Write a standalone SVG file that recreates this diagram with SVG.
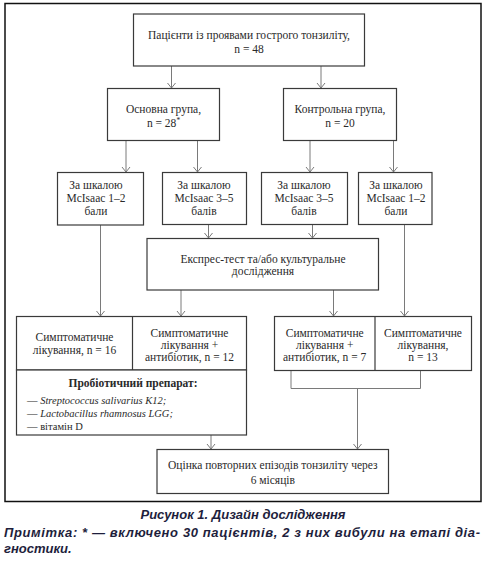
<svg xmlns="http://www.w3.org/2000/svg" width="486" height="567" viewBox="0 0 486 567">
<style>
.box{fill:#fff;stroke:#3a3a3a;stroke-width:1.2}
.ln{fill:none;stroke:#7a7a7a;stroke-width:1}
.t{font-family:"Liberation Serif","Times New Roman",serif;font-size:11.5px;fill:#2a2a2a;text-anchor:middle}
.tl{font-family:"Liberation Serif","Times New Roman",serif;font-size:10.5px;fill:#2a2a2a}
.b{font-weight:bold}
.i{font-style:italic}
.cap{font-family:"Liberation Sans",Arial,sans-serif;font-weight:bold;font-style:italic;fill:#1e1e3c}
</style>
<rect width="486" height="567" fill="#fff"/>
<rect x="5" y="3.5" width="476" height="498" fill="none" stroke="#111" stroke-width="1.5"/>

<g id="connectors">
<line class="ln" x1="171.5" y1="66" x2="171.5" y2="88.5"/>
<line class="ln" x1="321" y1="66" x2="321" y2="88.5"/>
<line class="ln" x1="126" y1="140.5" x2="126" y2="172.5"/>
<line class="ln" x1="197.5" y1="140.5" x2="197.5" y2="172.5"/>
<line class="ln" x1="310" y1="140.5" x2="310" y2="172.5"/>
<line class="ln" x1="393.5" y1="140.5" x2="393.5" y2="172.5"/>
<line class="ln" x1="208.5" y1="224.5" x2="208.5" y2="238.5"/>
<line class="ln" x1="312.5" y1="224.5" x2="312.5" y2="238.5"/>
<line class="ln" x1="100.5" y1="225" x2="100.5" y2="316.5"/>
<line class="ln" x1="181" y1="290" x2="181" y2="316.5"/>
<line class="ln" x1="333.5" y1="290" x2="333.5" y2="316.5"/>
<line class="ln" x1="404.5" y1="224.5" x2="404.5" y2="316.5"/>
<polyline class="ln" points="291,370.5 291,388.5 420.5,388.5 420.5,370.5"/>
<line class="ln" x1="357.5" y1="388.5" x2="357.5" y2="449.5"/>
<line class="ln" x1="211" y1="435" x2="211" y2="449.5"/>
<g fill="none" stroke="#7a7a7a" stroke-width="1">
<polyline points="167.5,83 171.5,88 175.5,83"/>
<polyline points="317,83 321,88 325,83"/>
<polyline points="122,167 126,172 130,167"/>
<polyline points="193.5,167 197.5,172 201.5,167"/>
<polyline points="306,167 310,172 314,167"/>
<polyline points="389.5,167 393.5,172 397.5,167"/>
<polyline points="204.5,233 208.5,238 212.5,233"/>
<polyline points="308.5,233 312.5,238 316.5,233"/>
<polyline points="96.5,311 100.5,316 104.5,311"/>
<polyline points="177,311 181,316 185,311"/>
<polyline points="329.5,311 333.5,316 337.5,311"/>
<polyline points="400.5,311 404.5,316 408.5,311"/>
<polyline points="353.5,444 357.5,449 361.5,444"/>
<polyline points="207,444 211,449 215,444"/>
</g>
</g>

<g id="n-patients">
<rect class="box" x="133.5" y="14" width="231" height="52"/>
<text class="t" x="249" y="38.5">Пацієнти із проявами гострого тонзиліту,</text>
<text class="t" x="249" y="52.5">n = 48</text>
</g>
<g id="n-main">
<rect class="box" x="107.5" y="88.5" width="112" height="52"/>
<text class="t" x="163.5" y="113">Основна група,</text>
<text class="t" x="163.5" y="126.5">n = 28<tspan dy="-4" font-size="7.5">*</tspan></text>
</g>
<g id="n-control">
<rect class="box" x="283.5" y="88.5" width="113" height="52"/>
<text class="t" x="340" y="113">Контрольна група,</text>
<text class="t" x="340" y="126.5">n = 20</text>
</g>
<g id="n-a">
<rect class="box" x="57.5" y="172.5" width="86" height="52.5"/>
<text class="t" x="96" y="188.5">За шкалою</text>
<text class="t" x="96" y="201.5">McIsaac 1–2</text>
<text class="t" x="96" y="215">бали</text>
</g>
<g id="n-b">
<rect class="box" x="162.5" y="172.5" width="84" height="52"/>
<text class="t" x="204" y="188.5">За шкалою</text>
<text class="t" x="204" y="201.5">McIsaac 3–5</text>
<text class="t" x="204" y="215">балів</text>
</g>
<g id="n-c">
<rect class="box" x="261.5" y="172.5" width="86" height="52"/>
<text class="t" x="304" y="188.5">За шкалою</text>
<text class="t" x="304" y="201.5">McIsaac 3–5</text>
<text class="t" x="304" y="215">балів</text>
</g>
<g id="n-d">
<rect class="box" x="358.5" y="172.5" width="73.5" height="52"/>
<text class="t" x="396" y="188.5">За шкалою</text>
<text class="t" x="396" y="201.5">McIsaac 1–2</text>
<text class="t" x="396" y="215">бали</text>
</g>
<g id="n-express">
<rect class="box" x="147" y="238.5" width="231.5" height="51.5"/>
<text class="t" x="263" y="262.5">Експрес-тест та/або культуральне</text>
<text class="t" x="263" y="275">дослідження</text>
</g>
<g id="n-left">
<rect class="box" x="16.5" y="316.5" width="230" height="53.5"/>
<line x1="132.5" y1="316.5" x2="132.5" y2="370" stroke="#3a3a3a" stroke-width="1.2"/>
<text class="t" x="74.5" y="340.5">Симптоматичне</text>
<text class="t" x="74.5" y="354">лікування, n = 16</text>
<text class="t" x="189.5" y="336.5">Симптоматичне</text>
<text class="t" x="189.5" y="348.5">лікування +</text>
<text class="t" x="189.5" y="361">антибіотик, n = 12</text>
</g>
<g id="n-probiotic">
<rect class="box" x="16.5" y="370" width="230" height="65"/>
<text class="t b" x="133" y="387">Пробіотичний препарат:</text>
<text class="tl" x="27" y="403.5">— <tspan class="i">Streptococcus salivarius K12;</tspan></text>
<text class="tl" x="27" y="416.5">— <tspan class="i">Lactobacillus rhamnosus LGG;</tspan></text>
<text class="tl" x="27" y="429.5">— вітамін D</text>
</g>
<g id="n-right">
<rect class="box" x="274.5" y="316.5" width="197" height="54"/>
<line x1="375" y1="316.5" x2="375" y2="370.5" stroke="#3a3a3a" stroke-width="1.2"/>
<text class="t" x="324.7" y="336.5">Симптоматичне</text>
<text class="t" x="324.7" y="348.5">лікування +</text>
<text class="t" x="324.7" y="361">антибіотик, n = 7</text>
<text class="t" x="423" y="336.5">Симптоматичне</text>
<text class="t" x="423" y="348.5">лікування,</text>
<text class="t" x="423" y="361">n = 13</text>
</g>
<g id="n-final">
<rect class="box" x="157" y="449.5" width="231.5" height="44"/>
<text class="t" x="272.8" y="468.5">Оцінка повторних епізодів тонзиліту через</text>
<text class="t" x="272.8" y="483.5">6 місяців</text>
</g>

<text class="cap" x="243" y="518.5" font-size="13" text-anchor="middle">Рисунок 1. Дизайн дослідження</text>
<text class="cap" x="4" y="537" font-size="13" textLength="476" lengthAdjust="spacing">Примітка: * — включено 30 пацієнтів, 2 з них вибули на етапі діа-</text>
<text class="cap" x="4" y="553" font-size="13">гностики.</text>
</svg>
